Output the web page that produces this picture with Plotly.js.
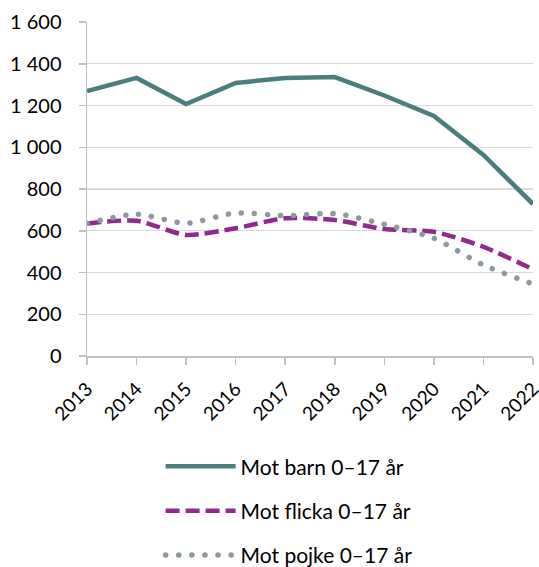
<!DOCTYPE html>
<html>
<head>
<meta charset="utf-8">
<script src="https://cdn.plot.ly/plotly-3.0.1.min.js"></script>
<style>
html,body{margin:0;padding:0;background:#fff;}
#chart{width:539px;height:567px;}
</style>
</head>
<body>
<div id="chart"></div>
<script>
const years = ['2013','2014','2015','2016','2017','2018','2019','2020','2021','2022'];
const barn = [1269, 1332, 1207, 1308, 1332, 1336, 1248, 1150, 963, 728];
const flicka = [635, 648, 580, 612, 660, 651, 608, 595, 523, 415];
const pojke = [635, 679, 636, 685, 672, 682, 631, 564, 436, 345];
const yTickVals = [0, 200, 400, 600, 800, 1000, 1200, 1400, 1600];
const yTickText = ['0', '200', '400', '600', '800', '1 000', '1 200', '1 400', '1 600'];
const names = ['Mot barn 0–17 år', 'Mot flicka 0–17 år', 'Mot pojke 0–17 år'];

const font = 'Lato, "Open Sans", sans-serif';
const traces = [
  {x: years, y: barn, name: names[0], type: 'scatter', mode: 'lines', legendgroup: 'a',
   line: {color: '#4A7E7C', width: 4.5, shape: 'linear'}},
  {x: years, y: flicka, name: names[1], type: 'scatter', mode: 'lines', legendgroup: 'b',
   line: {color: '#912A8E', width: 4.5, dash: '14px,6px', shape: 'spline', smoothing: 0.7}},
  {x: years, y: pojke, name: names[2], type: 'scatter', mode: 'lines', legendgroup: 'c',
   line: {color: '#8C99A2', width: 5.5, dash: '0.1px,13px', shape: 'spline', smoothing: 0.7}}
];
const layout = {
  width: 539, height: 567,
  margin: {l: 87, r: 6, t: 22, b: 211, autoexpand: false},
  paper_bgcolor: '#fff', plot_bgcolor: '#fff',
  font: {family: font, size: 20, color: '#000'},
  showlegend: true,
  legend: {orientation: 'v', x: 0.165, xanchor: 'left', y: -0.27, yanchor: 'top', maxheight: 600,
    tracegroupgap: 14, itemwidth: 70, font: {family: font, size: 21, color: '#000'}},
  xaxis: {type: 'category', range: [0, 9], tickangle: -45, showgrid: false, automargin: false,
    showline: true, linecolor: '#BFBFBF', linewidth: 1.5,
    ticks: 'outside', ticklen: 7, tickcolor: '#BFBFBF', tickwidth: 1.5, ticklabelstandoff: 6,
    tickfont: {family: font, size: 19}},
  yaxis: {range: [0, 1600], tickvals: yTickVals, ticktext: yTickText, automargin: false,
    showgrid: true, gridcolor: '#D9D9D9', gridwidth: 1.2,
    showline: true, linecolor: '#BFBFBF', linewidth: 1.5,
    ticks: 'outside', ticklen: 7, tickcolor: '#BFBFBF', tickwidth: 1.5, ticklabelstandoff: 13,
    zeroline: false, tickfont: {family: font, size: 20}}
};
Plotly.newPlot('chart', traces, layout, {displayModeBar: false, staticPlot: true}).then(function(gd){
  document.querySelectorAll('.scatterlayer .trace:nth-child(3) path.js-line').forEach(p => p.style.strokeLinecap = 'round');
  document.querySelectorAll('.legend .traces').forEach((t, i) => {
    if (i === 2) t.querySelectorAll('path.js-line').forEach(p => p.style.strokeLinecap = 'round');
  });
});
</script>
</body>
</html>
